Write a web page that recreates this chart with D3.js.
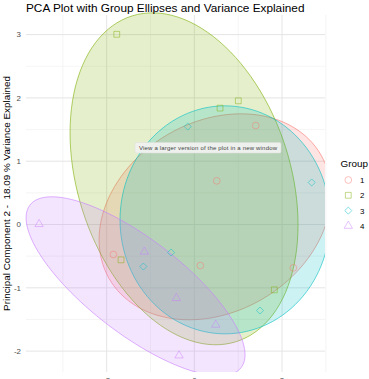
<!DOCTYPE html>
<html><head><meta charset="utf-8">
<script src="https://cdn.jsdelivr.net/npm/d3@7"></script>
<style>body{margin:0;background:#fff;} svg{display:block;font-family:"Liberation Sans",Arial,Helvetica,sans-serif;}</style>
</head><body><svg id="c" width="369" height="379"></svg>
<script>
// ---- data ----
const groups = ["1", "2", "3", "4"];
const groupColors = ["#F8766D", "#7CAE00", "#00BFC4", "#C77CFF"];
const pc1_g1 = [1.400, 0.511, -1.847, 0.137, 2.258];
const pc2_g1 = [1.564, 0.690, -0.474, -0.648, -0.684];
const pc1_g2 = [-1.770, 0.586, 1.003, -1.672, 1.824];
const pc2_g2 = [3.005, 1.839, 1.954, -0.558, -1.032];
const pc1_g3 = [-0.151, 2.677, -0.531, -1.163, 1.498];
const pc2_g3 = [1.548, 0.664, -0.442, -0.664, -1.359];
const pc1_g4 = [-3.542, -1.140, -0.410, 0.488, -0.349];
const pc2_g4 = [0.006, -0.431, -1.163, -1.585, -2.070];
// ellipse: centre, half-width (PC1), half-height (PC2), PC2 offset of rightmost point
const ellCx = [0.472, -0.235, 0.700, -1.341];
const ellCy = [0.122, 0.722, 0.074, -0.976];
const ellW  = [2.645, 2.600, 2.395, 2.497];
const ellH  = [1.627, 2.622, 1.801, 1.414];
const ellD  = [0.363, -0.727, 0.000, -1.082];
const xTicks = [-2, 0, 2];
const xMinor = [-3, -1, 1, 3];
const yTicks = [-2, -1, 0, 1, 2, 3];
const yMinor = [-1.5, -0.5, 0.5, 1.5, 2.5];
const titleText = "PCA Plot with Group Ellipses and Variance Explained";
const yTitle = "Principal Component 2 -  18.09 % Variance Explained";
const legendTitle = "Group";
const tipText = "View a larger version of the plot in a new window";

const pcx = [pc1_g1, pc1_g2, pc1_g3, pc1_g4];
const pcy = [pc2_g1, pc2_g2, pc2_g3, pc2_g4];

// ---- layout ----
const L = 26, R = 325, T = 15, B = 372;
const x = d3.scaleLinear().domain([-3.84, 2.98]).range([L, R]);
const y = d3.scaleLinear().domain([-2.33, 3.31]).range([B, T]);
const svg = d3.select("#c");

svg.append("defs").append("clipPath").attr("id", "pan")
  .append("rect").attr("x", 20).attr("y", 11).attr("width", R - 20).attr("height", B - 11);

const grid = svg.append("g");
grid.selectAll(".xm").data(xMinor).join("line")
  .attr("x1", d => x(d)).attr("x2", d => x(d)).attr("y1", T).attr("y2", B)
  .attr("stroke", "#efefef").attr("stroke-width", 0.6);
grid.selectAll(".ym").data(yMinor).join("line")
  .attr("y1", d => y(d)).attr("y2", d => y(d)).attr("x1", L).attr("x2", R)
  .attr("stroke", "#efefef").attr("stroke-width", 0.6);
grid.selectAll(".xM").data(xTicks).join("line")
  .attr("x1", d => x(d)).attr("x2", d => x(d)).attr("y1", T).attr("y2", B)
  .attr("stroke", "#e5e5e5").attr("stroke-width", 1);
grid.selectAll(".yM").data(yTicks).join("line")
  .attr("y1", d => y(d)).attr("y2", d => y(d)).attr("x1", L).attr("x2", R)
  .attr("stroke", "#e5e5e5").attr("stroke-width", 1);

// ellipses
const line = d3.line().x(d => x(d[0])).y(d => y(d[1])).curve(d3.curveLinearClosed);
const panel = svg.append("g").attr("clip-path", "url(#pan)");
groups.forEach((g, i) => {
  const vy = Math.sqrt(ellH[i] * ellH[i] - ellD[i] * ellD[i]);
  const pts = d3.range(0, 120).map(k => {
    const t = k / 120 * 2 * Math.PI;
    return [ellCx[i] + ellW[i] * Math.cos(t), ellCy[i] + ellD[i] * Math.cos(t) + vy * Math.sin(t)];
  });
  panel.append("path").attr("d", line(pts))
    .attr("fill", groupColors[i]).attr("fill-opacity", 0.2)
    .attr("stroke", groupColors[i]).attr("stroke-opacity", 0.85).attr("stroke-width", 0.7);
});

// symbols
function sym(i) {
  if (i === 0) return d3.symbol(d3.symbolCircle, 36)();
  if (i === 1) return d3.symbol(d3.symbolSquare, 34)();
  if (i === 2) return d3.symbol(d3.symbolSquare, 25)();
  return d3.symbol(d3.symbolTriangle, 30)();
}
groups.forEach((g, i) => {
  pcx[i].forEach((v, j) => {
    panel.append("path").attr("d", sym(i))
      .attr("transform", `translate(${x(v)},${y(pcy[i][j])})${i === 2 ? " rotate(45)" : ""}`)
      .attr("fill", "none").attr("stroke", groupColors[i]).attr("stroke-opacity", 0.5).attr("stroke-width", 0.9);
  });
});

// axes text
svg.append("g").selectAll("text").data(yTicks).join("text")
  .attr("x", 21).attr("y", d => y(d) + 2.8).attr("text-anchor", "end")
  .attr("font-size", 7.9).attr("fill", "#4d4d4d").text(d => d);
svg.append("g").selectAll("text").data(xTicks).join("text")
  .attr("x", d => x(d)).attr("y", 383).attr("text-anchor", "middle")
  .attr("font-size", 7.9).attr("fill", "#4d4d4d").text(d => d);

svg.append("text").attr("x", 26).attr("y", 11.6).attr("font-size", 11.8).attr("fill", "#000").text(titleText);
svg.append("text").attr("transform", `translate(9.5,${(T + B) / 2}) rotate(-90)`)
  .attr("text-anchor", "middle").attr("font-size", 9.9).attr("fill", "#000")
  .style("white-space", "pre").text(yTitle);

// legend
svg.append("text").attr("x", 340.5).attr("y", 166.5).attr("font-size", 9.9).text(legendTitle);
groups.forEach((g, i) => {
  const ky = 180 + i * 15.3;
  svg.append("path").attr("d", sym(i))
    .attr("transform", `translate(348.3,${ky})${i === 2 ? " rotate(45)" : ""}`)
    .attr("fill", "none").attr("stroke", groupColors[i]).attr("stroke-opacity", 0.5).attr("stroke-width", 0.9);
  svg.append("text").attr("x", 360).attr("y", ky + 2.9).attr("font-size", 7.9).attr("fill", "#000").text(g);
});

// tooltip overlay
svg.append("rect").attr("x", 135).attr("y", 142.5).attr("width", 146).attr("height", 10.5)
  .attr("rx", 1.5).attr("fill", "#f2f2f0").attr("fill-opacity", 0.92).attr("stroke", "#dcdcdc").attr("stroke-width", 0.5);
svg.append("text").attr("x", 139).attr("y", 150.3).attr("font-size", 6).attr("fill", "#444")
  .attr("textLength", 138).text(tipText);
</script></body></html>
